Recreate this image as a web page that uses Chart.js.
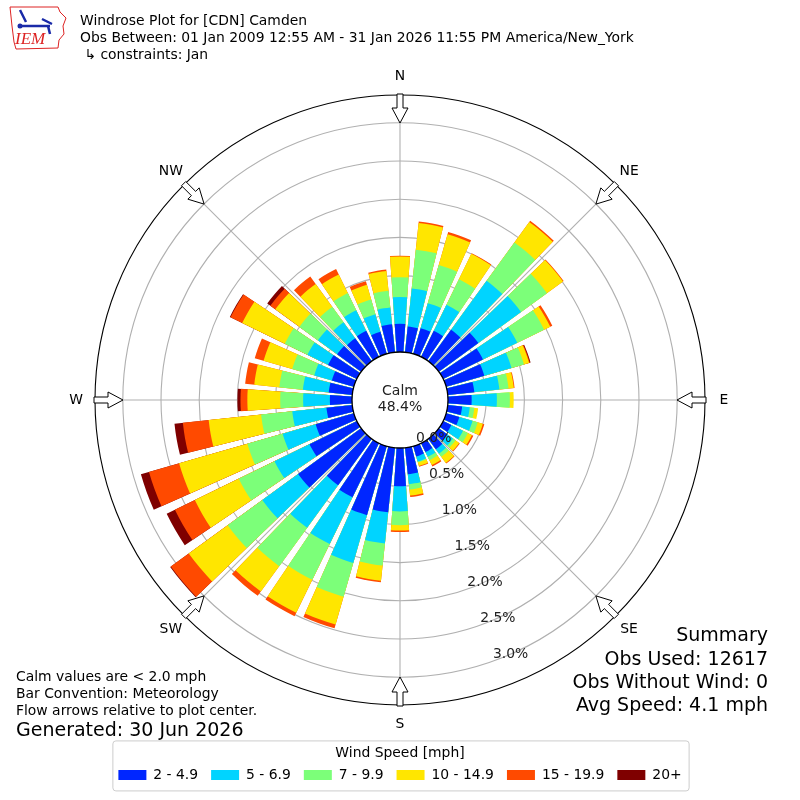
<!DOCTYPE html>
<html>
<head>
<meta charset="utf-8">
<title>Windrose Plot for [CDN] Camden</title>
<script src="https://cdn.jsdelivr.net/npm/chart.js@4.4.1/dist/chart.umd.min.js"></script>
<style>
  body { margin: 0; background: #fff; font-family: 'DejaVu Sans', sans-serif; color: #000; }
  #wrap { position: relative; width: 800px; height: 800px; overflow: hidden; }
  #rose { position: absolute; left: 0; top: 0; }
  .txt { position: absolute; white-space: nowrap; font-size: 13.9px; line-height: 17px; }
  #logo { position: absolute; left: 6px; top: 4px; }
  #title { left: 80px; top: 11.5px; }
  #notes { left: 16px; top: 667.5px; }
  #generated { left: 16px; top: 718px; font-size: 19px; line-height: 22px; }
  #summary { right: 32px; top: 623.4px; text-align: right; font-size: 19px; line-height: 23.3px; }
</style>
</head>
<body>
<div id="wrap">
  <canvas id="rose"></canvas>
  <svg id="logo" width="64" height="48" viewBox="0 0 64 48">
    <path d="M4 3 L52 3 L54 8 L60 14 L57 22 L58 30 L53 36 L52 44 L10 45 L8 38 L6 22 Z" fill="none" stroke="#d22" stroke-width="1"/>
    <path d="M14 22 L44 22" stroke="#1a2aa8" stroke-width="2.5"/>
    <path d="M14 6 L20 18 M36 15 L46 20 M42 22 L44 30" stroke="#1a2aa8" stroke-width="2.5" fill="none"/>
    <circle cx="14" cy="22" r="2.5" fill="#1a2aa8"/>
    <text x="9" y="40" fill="#d22" font-family="'Liberation Serif', serif" font-style="italic" font-size="17">IEM</text>
  </svg>
  <div id="title" class="txt">Windrose Plot for [CDN] Camden<br>Obs Between: 01 Jan 2009 12:55 AM - 31 Jan 2026 11:55 PM America/New_York<br>&nbsp;↳ constraints: Jan</div>
  <div id="notes" class="txt">Calm values are &lt; 2.0 mph<br>Bar Convention: Meteorology<br>Flow arrows relative to plot center.</div>
  <div id="generated" class="txt">Generated: 30 Jun 2026</div>
  <div id="summary" class="txt">Summary<br>Obs Used: 12617<br>Obs Without Wind: 0<br>Avg Speed: 4.1 mph</div>
</div>
<script>
'use strict';

// direction each bar comes from (degrees, meteorological)
const directions = [0, 10, 20, 30, 40, 50, 60, 70, 80, 90, 100, 110, 120, 130, 140, 150, 160, 170,
    180, 190, 200, 210, 220, 230, 240, 250, 260, 270, 280, 290, 300, 310, 320, 330, 340, 350];

const speedBins = ['2 - 4.9', '5 - 6.9', '7 - 9.9', '10 - 14.9', '15 - 19.9', '20+'];

// percent of observations per direction, one array per speed bin
const bin2to5 = [0.37, 0.34, 0.35, 0.38, 0.51, 0.64, 0.58, 0.52, 0.35, 0.31, 0.19, 0.18, 0.12, 0.14, 0.17, 0.13, 0.14, 0.35,
    0.50, 0.85, 0.94, 0.79, 0.75, 1.02, 0.69, 0.52, 0.34, 0.29, 0.31, 0.30, 0.42, 0.39, 0.37, 0.38, 0.30, 0.37];
const bin5to7 = [0.35, 0.50, 0.34, 0.38, 0.79, 0.69, 0.50, 0.37, 0.33, 0.33, 0.10, 0.18, 0.17, 0.09, 0.07, 0.07, 0.07, 0.13,
    0.33, 0.41, 0.65, 0.68, 0.69, 0.58, 0.51, 0.45, 0.45, 0.35, 0.34, 0.24, 0.30, 0.31, 0.26, 0.30, 0.24, 0.22];
const bin7to10 = [0.26, 0.51, 0.52, 0.37, 0.62, 0.42, 0.39, 0.17, 0.12, 0.17, 0.06, 0.07, 0.07, 0.04, 0.05, 0.05, 0.01, 0.07,
    0.18, 0.29, 0.46, 0.52, 0.62, 0.56, 0.52, 0.48, 0.41, 0.30, 0.31, 0.30, 0.33, 0.30, 0.25, 0.25, 0.20, 0.22];
const bin10to15 = [0.27, 0.35, 0.42, 0.37, 0.33, 0.26, 0.09, 0.07, 0.07, 0.05, 0.05, 0.07, 0.06, 0.06, 0.10, 0.07, 0.05, 0.08,
    0.07, 0.20, 0.38, 0.48, 0.41, 0.63, 0.64, 0.93, 0.69, 0.43, 0.33, 0.39, 0.62, 0.39, 0.37, 0.27, 0.20, 0.26];
const bin15to20 = [0.01, 0.02, 0.03, 0.01, 0.02, 0.01, 0.03, 0.01, 0.01, 0, 0, 0.02, 0.02, 0.01, 0.01, 0.02, 0.01, 0.02,
    0.02, 0.02, 0.05, 0.05, 0.07, 0.29, 0.29, 0.41, 0.34, 0.09, 0.12, 0.12, 0.17, 0.08, 0.12, 0.08, 0.05, 0.02];
const bin20up = [0, 0, 0, 0, 0, 0, 0, 0.01, 0, 0, 0, 0, 0, 0, 0, 0, 0, 0,
    0, 0, 0, 0, 0, 0.01, 0.12, 0.11, 0.11, 0.04, 0, 0, 0.01, 0.05, 0, 0, 0, 0];

const calmPercent = 48.4;
const radialTicks = [0, 0.5, 1.0, 1.5, 2.0, 2.5, 3.0];
const compassLabels = ['N', 'NE', 'E', 'SE', 'S', 'SW', 'W', 'NW'];
const compassBearings = [0, 45, 90, 135, 180, 225, 270, 315];

const binColors = ['#0026ff', '#00d4ff', '#7cff79', '#ffe600', '#ff4a00', '#7f0000'];
const FONT = "'DejaVu Sans'";
const barOpening = 8;   // degrees covered by one bar
const gapOpening = 2;   // degrees left blank between bars
const rMin = -0.628;    // value at the very centre, so 0% sits on the calm circle
const rMax = 3.364;

Chart.defaults.font.family = FONT;
Chart.defaults.color = '#000';

// stack the bins: each dataset holds the running total, smaller ones drawn on top
const bins = [bin2to5, bin5to7, bin7to10, bin10to15, bin15to20, bin20up];
let running = directions.map(() => 0);
const datasets = bins.map((bin, k) => {
    running = running.map((v, i) => v + bin[i]);
    let data = [];
    running.forEach(v => {
        data.push(v);
        data.push(0);   // blank slot for the gap
    });
    return {
        label: speedBins[k],
        data: data,
        borderWidth: 0,
        angle: ctx => (ctx.dataIndex % 2 ? gapOpening : barOpening),
        backgroundColor: ctx => {
            let i = Math.floor(ctx.dataIndex / 2);
            if (ctx.dataIndex % 2 || bin[i] === 0) {
                return 'rgba(0,0,0,0)';
            }
            return binColors[k];
        },
    };
});

let labels = [];
directions.forEach(d => {
    labels.push(d);
    labels.push(d + barOpening / 2 + gapOpening / 2);
});

function polar(scale, bearing, r) {
    let a = bearing * Math.PI / 180;
    return [scale.xCenter + r * Math.sin(a), scale.yCenter - r * Math.cos(a)];
}

const roseDecor = {
    id: 'roseDecor',
    beforeDatasetsDraw(chart) {
        const scale = chart.scales.r;
        const ctx = chart.ctx;
        const r0 = scale.getDistanceFromCenterForValue(0);
        ctx.save();
        ctx.strokeStyle = '#b0b0b0';
        ctx.lineWidth = 1.1;
        compassBearings.forEach(b => {
            let p1 = polar(scale, b, r0);
            let p2 = polar(scale, b, scale.drawingArea);
            ctx.beginPath();
            ctx.moveTo(p1[0], p1[1]);
            ctx.lineTo(p2[0], p2[1]);
            ctx.stroke();
        });
        ctx.strokeStyle = '#000';
        ctx.lineWidth = 1.1;
        ctx.beginPath();
        ctx.arc(scale.xCenter, scale.yCenter, scale.drawingArea, 0, Math.PI * 2);
        ctx.stroke();
        ctx.restore();
    },
    afterDatasetsDraw(chart) {
        const scale = chart.scales.r;
        const ctx = chart.ctx;
        const r0 = scale.getDistanceFromCenterForValue(0);
        ctx.save();
        // calm circle
        ctx.fillStyle = '#fff';
        ctx.strokeStyle = '#000';
        ctx.lineWidth = 1.3;
        ctx.beginPath();
        ctx.arc(scale.xCenter, scale.yCenter, r0, 0, Math.PI * 2);
        ctx.fill();
        ctx.stroke();
        ctx.fillStyle = '#222';
        ctx.font = '14px ' + FONT;
        ctx.textAlign = 'center';
        ctx.textBaseline = 'middle';
        ctx.fillText('Calm', scale.xCenter, scale.yCenter - 9);
        ctx.fillText(calmPercent.toFixed(1) + '%', scale.xCenter, scale.yCenter + 7.5);

        // radial tick labels
        ctx.font = '13.9px ' + FONT;
        ctx.textAlign = 'left';
        ctx.textBaseline = 'bottom';
        radialTicks.forEach(t => {
            let p = polar(scale, 160.4, scale.getDistanceFromCenterForValue(t));
            ctx.fillText(t.toFixed(1) + '%', p[0], p[1]);
        });
        ctx.restore();
    },
    afterDraw(chart) {
        const scale = chart.scales.r;
        const ctx = chart.ctx;
        const R = scale.drawingArea;
        ctx.save();
        // flow arrows and compass labels
        compassBearings.forEach((b, i) => {
            let a = b * Math.PI / 180;
            let ux = Math.sin(a), uy = -Math.cos(a);
            let nx = Math.cos(a), ny = Math.sin(a);
            let pt = (r, w) => [scale.xCenter + ux * r + nx * w, scale.yCenter + uy * r + ny * w];
            let shape = [pt(R - 28, 0), pt(R - 13, 8), pt(R - 13, 3), pt(R + 1, 3),
                pt(R + 1, -3), pt(R - 13, -3), pt(R - 13, -8)];
            ctx.beginPath();
            shape.forEach((p, j) => (j ? ctx.lineTo(p[0], p[1]) : ctx.moveTo(p[0], p[1])));
            ctx.closePath();
            ctx.fillStyle = '#fff';
            ctx.fill();
            ctx.strokeStyle = '#000';
            ctx.lineWidth = 1;
            ctx.stroke();

            let lp = pt(R + 19, 0);
            ctx.fillStyle = '#000';
            ctx.font = '13.9px ' + FONT;
            ctx.textAlign = 'center';
            ctx.textBaseline = 'middle';
            ctx.fillText(compassLabels[i], lp[0], lp[1]);
        });

        // frame round the legend
        const legend = chart.legend;
        if (legend && legend.legendHitBoxes.length) {
            let boxes = legend.legendHitBoxes;
            let left = boxes[0].left - 6;
            let last = boxes[boxes.length - 1];
            let right = last.left + last.width + 7;
            let top = legend.top - 3;
            let bottom = legend.top + 47;
            ctx.strokeStyle = '#cccccc';
            ctx.lineWidth = 1;
            ctx.beginPath();
            ctx.roundRect(left + 0.5, top + 0.5, right - left, bottom - top, 3);
            ctx.stroke();
        }
        ctx.restore();
    }
};

const canvasEl = document.getElementById('rose');
canvasEl.width = 800;
canvasEl.height = 800;

new Chart(canvasEl, {
    type: 'polarArea',
    data: {
        labels: labels,
        datasets: datasets,
    },
    options: {
        responsive: false,
        animation: false,
        events: [],
        layout: {
            padding: { top: 57, left: 95, right: 95, bottom: 8 }
        },
        scales: {
            r: {
                min: rMin,
                max: rMax,
                startAngle: -barOpening / 2,
                ticks: { display: false, stepSize: 0.5, includeBounds: false },
                grid: { circular: true, color: '#b0b0b0', lineWidth: 1.1 },
                angleLines: { display: false },
                pointLabels: { display: false },
            }
        },
        plugins: {
            tooltip: { enabled: false },
            legend: {
                position: 'bottom',
                onClick: null,
                title: {
                    display: true,
                    text: 'Wind Speed [mph]',
                    color: '#000',
                    padding: { top: 3, bottom: -8 },
                    font: { family: FONT, size: 13.9 },
                },
                labels: {
                    boxWidth: 28,
                    boxHeight: 10,
                    padding: 13,
                    color: '#000',
                    font: { family: FONT, size: 13.9 },
                    generateLabels: chart => chart.data.datasets.map((ds, i) => ({
                        text: ds.label,
                        fillStyle: binColors[i],
                        strokeStyle: binColors[i],
                        lineWidth: 0,
                        hidden: false,
                        datasetIndex: i,
                    })),
                },
            },
        },
    },
    plugins: [roseDecor],
});
</script>
</body>
</html>
